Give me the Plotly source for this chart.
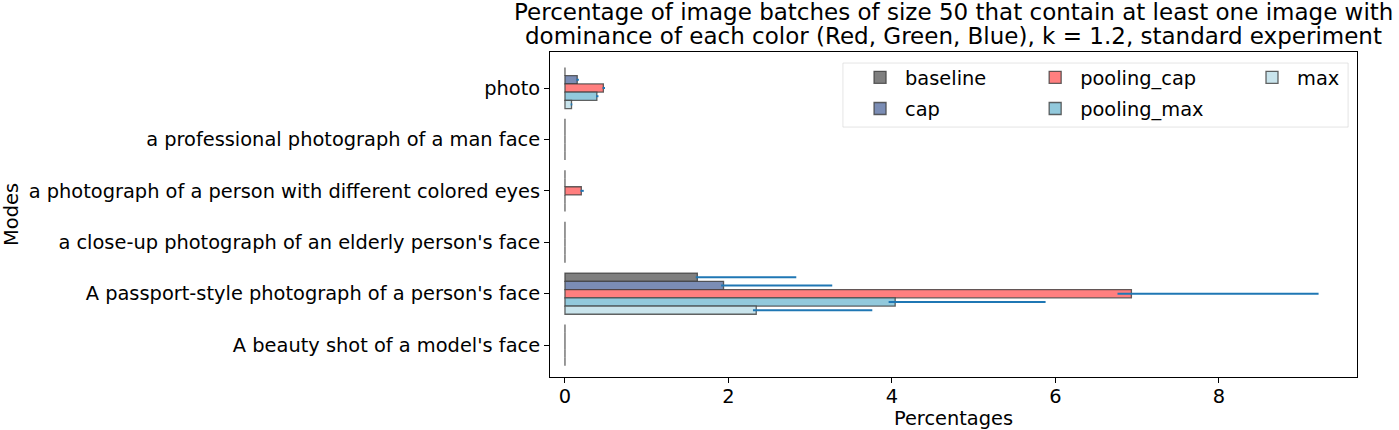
import plotly.graph_objects as go

categories = [
    "photo",
    "a professional photograph of a man face",
    "a photograph of a person with different colored eyes",
    "a close-up photograph of an elderly person's face",
    "A passport-style photograph of a person's face",
    "A beauty shot of a model's face",
]
series_names = ["baseline", "cap", "pooling_cap", "pooling_max", "max"]
title_lines = [
    "Percentage of image batches of size 50 that contain at least one image with",
    "dominance of each color (Red, Green, Blue), k = 1.2, standard experiment",
]

baseline = [0, 0, 0, 0, 1.62, 0]
baseline_err_hi = [0, 0, 0, 0, 1.21, 0]
baseline_err_lo = [0, 0, 0, 0, 0.02, 0]

cap = [0.15, 0, 0, 0, 1.94, 0]
cap_err_hi = [0.02, 0, 0, 0, 1.33, 0]
cap_err_lo = [0.01, 0, 0, 0, 0.03, 0]

pooling_cap = [0.47, 0, 0.20, 0, 6.93, 0]
pooling_cap_err_hi = [0.02, 0, 0.03, 0, 2.29, 0]
pooling_cap_err_lo = [0.01, 0, 0.01, 0, 0.17, 0]

pooling_max = [0.39, 0, 0, 0, 4.04, 0]
pooling_max_err_hi = [0.02, 0, 0, 0, 1.84, 0]
pooling_max_err_lo = [0.01, 0, 0, 0, 0.08, 0]

max_vals = [0.08, 0, 0, 0, 2.34, 0]
max_err_hi = [0.01, 0, 0, 0, 1.42, 0]
max_err_lo = [0.01, 0, 0, 0, 0.04, 0]

values = [baseline, cap, pooling_cap, pooling_max, max_vals]
errs_hi = [baseline_err_hi, cap_err_hi, pooling_cap_err_hi, pooling_max_err_hi, max_err_hi]
errs_lo = [baseline_err_lo, cap_err_lo, pooling_cap_err_lo, pooling_max_err_lo, max_err_lo]
colors = ["#7f7f7f", "#7b8db5", "#ff7f7f", "#92c9dc", "#c9e4ec"]
legend_ids = ["legend", "legend", "legend2", "legend2", "legend3"]

FONT = "DejaVu Sans"
FS = 19.4
TFS = 23
fig = go.Figure()
for name, v, eh, el, c, lg in zip(series_names, values, errs_hi, errs_lo, colors, legend_ids):
    fig.add_trace(go.Bar(
        name=name, y=categories, x=v, orientation="h",
        marker=dict(color=c, line=dict(color="rgba(60,60,60,0.8)", width=1.3)),
        error_x=dict(type="data", symmetric=False, array=eh, arrayminus=el,
                     color="#1f77b4", thickness=2, width=0),
        legend=lg, legendgroup=name,
    ))

leg_common = dict(font=dict(family=FONT, size=FS, color="black"),
                  bgcolor="rgba(0,0,0,0)", borderwidth=0,
                  orientation="v", yanchor="top", xanchor="left",
                  tracegroupgap=3, itemwidth=40)

# title, two lines with matplotlib-like tight line spacing
title_annotations = [
    dict(text=title_lines[0], xref="paper", yref="paper", x=0.5, y=(377 - 11.5) / 325,
         xanchor="center", yanchor="middle", showarrow=False,
         font=dict(family=FONT, size=TFS, color="black")),
    dict(text=title_lines[1], xref="paper", yref="paper", x=0.5, y=(377 - 35.5) / 325,
         xanchor="center", yanchor="middle", showarrow=False,
         font=dict(family=FONT, size=TFS, color="black")),
]

fig.update_layout(
    width=1399, height=430,
    margin=dict(l=550, r=42, t=52, b=53, autoexpand=False),
    paper_bgcolor="white", plot_bgcolor="white",
    font=dict(family=FONT, size=FS, color="black"),
    annotations=title_annotations,
    barmode="group", bargap=0.2, bargroupgap=0,
    legend=dict(x=0.378, y=0.981, **leg_common),
    legend2=dict(x=0.595, y=0.981, **leg_common),
    legend3=dict(x=0.8637, y=0.981, **leg_common),
    shapes=[dict(type="rect", xref="paper", yref="paper", x0=0.363, x1=0.989, y0=0.769, y1=0.966,
                 line=dict(color="rgba(204,204,204,0.5)", width=1), fillcolor="rgba(255,255,255,0.8)", layer="below")],
    showlegend=True,
)
fig.update_xaxes(
    range=[-0.183, 9.69], tickvals=[0, 2, 4, 6, 8], ticks="outside", ticklen=5, tickwidth=1,
    tickcolor="black", showline=True, linecolor="black", linewidth=1, mirror=True,
    showgrid=False, zeroline=False, tickfont=dict(family=FONT, size=FS), automargin=False,
    ticklabelstandoff=-3,
    title=dict(text="Percentages", font=dict(family=FONT, size=FS), standoff=9),
)
fig.update_yaxes(
    categoryorder="array", categoryarray=categories, range=[5.62, -0.70],
    ticks="outside", ticklen=5, tickwidth=1, tickcolor="black", automargin=False,
    showline=True, linecolor="black", linewidth=1, mirror=True, showgrid=False,
    tickfont=dict(family=FONT, size=FS),
    title=dict(text="Modes", font=dict(family=FONT, size=FS), standoff=8),
)
fig.write_html("out.html", post_script="document.body.style.margin='0';",
               config={"displayModeBar": False})
